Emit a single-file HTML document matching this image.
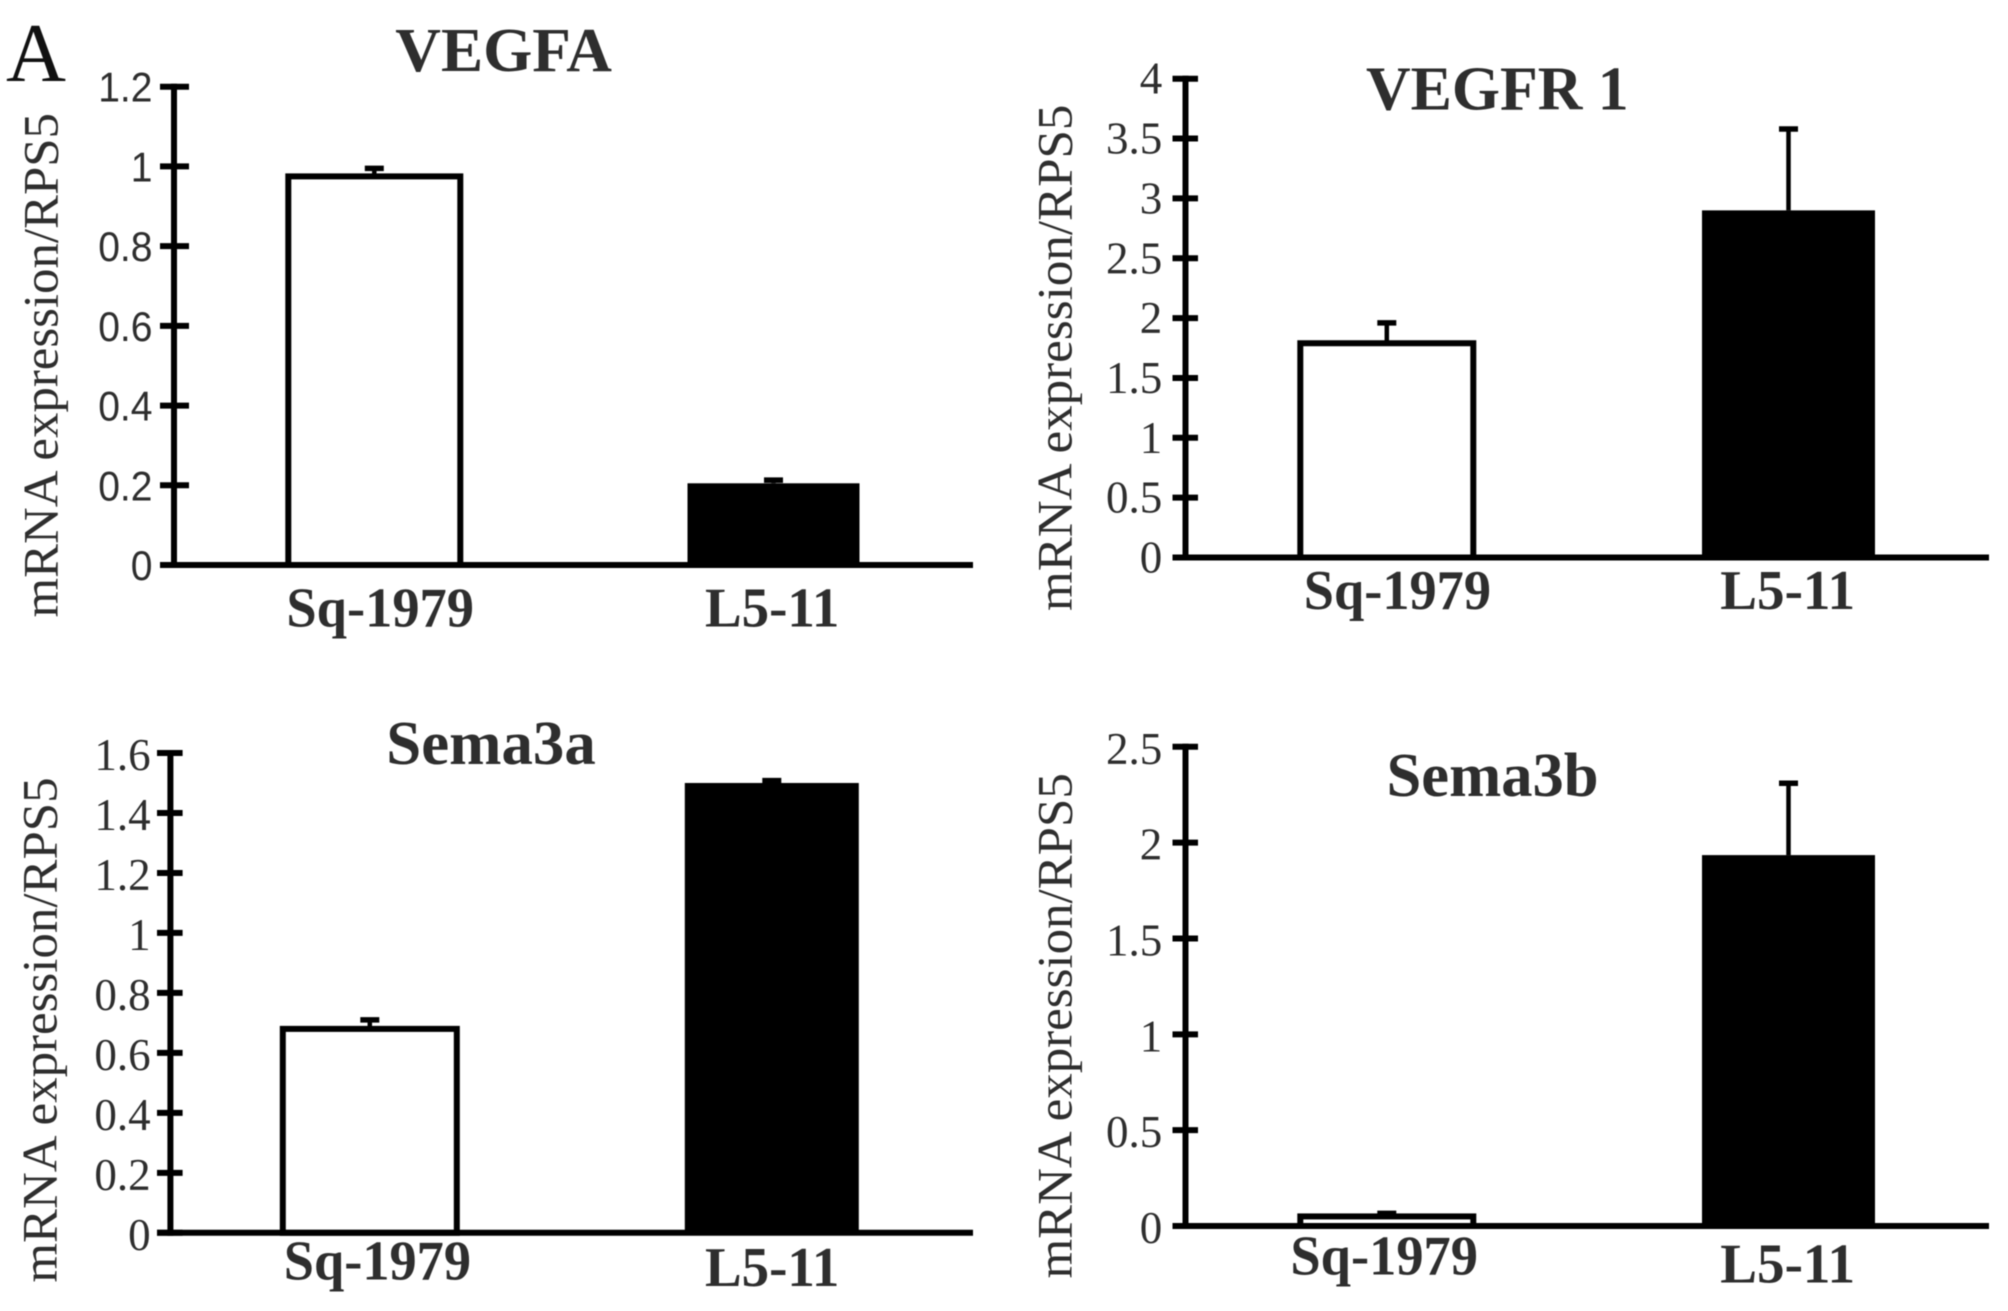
<!DOCTYPE html>
<html lang="en">
<head>
<meta charset="utf-8">
<title>mRNA expression bar charts</title>
<style>
html,body{margin:0;padding:0;background:#fff;}
body{width:2008px;height:1311px;overflow:hidden;}
svg{display:block;filter:blur(0.6px);}
text{fill:#2e2e2e;}
</style>
</head>
<body>
<svg id="figure" xmlns="http://www.w3.org/2000/svg" width="2008" height="1311" viewBox="0 0 2008 1311">
<rect width="2008" height="1311" fill="#fff"></rect>
<text x="6" y="81" font-family="'Liberation Serif',serif" font-size="84" textLength="60" lengthAdjust="spacingAndGlyphs" style="fill:#111">A</text>
</svg>
<script>
const categories = ['Sq-1979', 'L5-11'];
const yAxisTitle = 'mRNA expression/RPS5';

const vegfaTicks = ['0', '0.2', '0.4', '0.6', '0.8', '1', '1.2'];
const vegfaValues = [0.975, 0.205];
const vegfaErrors = [0.02, 0.008];

const vegfr1Ticks = ['0', '0.5', '1', '1.5', '2', '2.5', '3', '3.5', '4'];
const vegfr1Values = [1.79, 2.9];
const vegfr1Errors = [0.17, 0.68];

const sema3aTicks = ['0', '0.2', '0.4', '0.6', '0.8', '1', '1.2', '1.4', '1.6'];
const sema3aValues = [0.68, 1.5];
const sema3aErrors = [0.03, 0.008];

const sema3bTicks = ['0', '0.5', '1', '1.5', '2', '2.5'];
const sema3bValues = [0.05, 1.935];
const sema3bErrors = [0.016, 0.375];

const charts = [
  {
    key: 'vegfa', title: 'VEGFA', ticks: vegfaTicks, values: vegfaValues, errors: vegfaErrors,
    layout: {
      axisX: 174, tickL: 160, tickR: 189, axisRight: 973, topY: 86.7, zeroY: 565, bar0: 374.3, barStep: 399.2, barW: 172,
      tickLabelX: 152.5, tickFont: "'Liberation Sans',sans-serif", tickSize: 42, tickDy: 15, tickScaleX: 0.93,
      yTitleX: 57.7, yTitleTop: 113, yTitleBottom: 617.5,
      titleX: 395.3, titleW: 216.6, titleY: 71,
      catX: [286.4, 705], catW: [187.6, 134.3], catY: [626.6, 626.6]
    }
  },
  {
    key: 'vegfr1', title: 'VEGFR 1', ticks: vegfr1Ticks, values: vegfr1Values, errors: vegfr1Errors,
    layout: {
      axisX: 1185.5, tickL: 1172.5, tickR: 1198, axisRight: 1989, topY: 78.7, zeroY: 557.5, bar0: 1386.8, barStep: 401.7, barW: 173,
      tickLabelX: 1162.3, tickFont: "'Liberation Serif',serif", tickSize: 45, tickDy: 15, tickScaleX: 1,
      yTitleX: 1071.3, yTitleTop: 104.6, yTitleBottom: 611,
      titleX: 1366, titleW: 262.7, titleY: 109.7,
      catX: [1303.8, 1720.3], catW: [187.2, 134.7], catY: [609, 609]
    }
  },
  {
    key: 'sema3a', title: 'Sema3a', ticks: sema3aTicks, values: sema3aValues, errors: sema3aErrors,
    layout: {
      axisX: 170.4, tickL: 157, tickR: 182.6, axisRight: 973, topY: 753, zeroY: 1232.8, bar0: 369.8, barStep: 402, barW: 174,
      tickLabelX: 150.6, tickFont: "'Liberation Serif',serif", tickSize: 45, tickDy: 17, tickScaleX: 1,
      yTitleX: 56.4, yTitleTop: 777.4, yTitleBottom: 1282.6,
      titleX: 386.3, titleW: 209.5, titleY: 764,
      catX: [283.8, 705], catW: [187.2, 134.3], catY: [1279.7, 1286]
    }
  },
  {
    key: 'sema3b', title: 'Sema3b', ticks: sema3bTicks, values: sema3bValues, errors: sema3bErrors,
    layout: {
      axisX: 1185.5, tickL: 1172.5, tickR: 1198, axisRight: 1989, topY: 746.8, zeroY: 1226, bar0: 1386.8, barStep: 401.7, barW: 173,
      tickLabelX: 1162.3, tickFont: "'Liberation Serif',serif", tickSize: 45, tickDy: 17, tickScaleX: 1,
      yTitleX: 1071.3, yTitleTop: 773.2, yTitleBottom: 1278.5,
      titleX: 1386.5, titleW: 212.1, titleY: 796.2,
      catX: [1290.4, 1720.3], catW: [187.6, 134.7], catY: [1274.3, 1282.6]
    }
  }
];

const SVG_NS = 'http://www.w3.org/2000/svg';
const CAP_WIDTH = 19;
const figure = document.getElementById('figure');

function make(tag, parent) {
  const el = document.createElementNS(SVG_NS, tag);
  parent.appendChild(el);
  return el;
}
function line(parent, x1, y1, x2, y2, width, color) {
  const el = make('line', parent);
  el.setAttribute('x1', x1);
  el.setAttribute('y1', y1);
  el.setAttribute('x2', x2);
  el.setAttribute('y2', y2);
  el.setAttribute('stroke', color || '#000');
  el.setAttribute('stroke-width', width);
  return el;
}

charts.forEach(function (chart) {
  const L = chart.layout;
  const maxValue = parseFloat(chart.ticks[chart.ticks.length - 1]);
  const yScale = function (v) { return L.zeroY - (v / maxValue) * (L.zeroY - L.topY); };
  const xScale = function (i) { return L.bar0 + i * L.barStep; };

  const g = make('g', figure);
  
  

  // bars with error bars (drawn first so the axes sit on top)
  chart.values.forEach(function (value, i) {
    const cx = xScale(i);
    const top = yScale(value);
    const errTop = yScale(value + chart.errors[i]);

    const stem = line(g, cx, top, cx, errTop, 4.5);
    
    

    const cap = line(g, cx - CAP_WIDTH / 2, errTop, cx + CAP_WIDTH / 2, errTop, 5.5);
    
    

    const bar = make('rect', g);
    if (i === 0) {
      bar.setAttribute('x', cx - L.barW / 2);
      bar.setAttribute('y', top);
      bar.setAttribute('width', L.barW);
      bar.setAttribute('height', Math.max(0, L.zeroY - top));
      bar.setAttribute('fill', '#fff');
      bar.setAttribute('stroke', '#000');
      bar.setAttribute('stroke-width', 6);
    } else {
      bar.setAttribute('x', cx - L.barW / 2);
      bar.setAttribute('y', top);
      bar.setAttribute('width', L.barW);
      bar.setAttribute('height', Math.max(0, L.zeroY - top));
      bar.setAttribute('fill', '#000');
    }
    
    
  });

  // axes
  const yAxis = line(g, L.axisX, L.topY - 3, L.axisX, L.zeroY + 3, 6);
  
  

  const xAxis = line(g, L.tickL, L.zeroY, L.axisRight, L.zeroY, 6);
  
  

  // ticks and tick labels
  chart.ticks.forEach(function (label) {
    const v = parseFloat(label);
    const y = yScale(v);
    const tick = line(g, L.tickL, y, L.tickR, y, 6);
    
    

    const t = make('text', g);
    t.setAttribute('transform', 'translate(' + L.tickLabelX + ' ' + (y + L.tickDy) + ') scale(' + L.tickScaleX + ' 1)');
    t.setAttribute('text-anchor', 'end');
    t.setAttribute('font-family', L.tickFont);
    t.setAttribute('font-size', L.tickSize);
    t.textContent = label;
    
    
  });

  // y axis title
  const yt = make('text', g);
  yt.setAttribute('transform', 'translate(' + L.yTitleX + ' ' + L.yTitleBottom + ') rotate(-90)');
  yt.setAttribute('font-family', "'Liberation Serif',serif");
  yt.setAttribute('font-size', 50);
  yt.setAttribute('textLength', L.yTitleBottom - L.yTitleTop);
  yt.setAttribute('lengthAdjust', 'spacingAndGlyphs');
  yt.textContent = yAxisTitle;
  
  

  // chart title
  const title = make('text', g);
  title.setAttribute('x', L.titleX);
  title.setAttribute('y', L.titleY);
  title.setAttribute('font-family', "'Liberation Serif',serif");
  title.setAttribute('font-weight', 'bold');
  title.setAttribute('font-size', 62);
  title.setAttribute('textLength', L.titleW);
  title.setAttribute('lengthAdjust', 'spacingAndGlyphs');
  title.textContent = chart.title;
  
  

  // category labels
  categories.forEach(function (cat, i) {
    const c = make('text', g);
    c.setAttribute('x', L.catX[i]);
    c.setAttribute('y', L.catY[i]);
    c.setAttribute('font-family', "'Liberation Serif',serif");
    c.setAttribute('font-weight', 'bold');
    c.setAttribute('font-size', 56);
    c.setAttribute('textLength', L.catW[i]);
    c.setAttribute('lengthAdjust', 'spacingAndGlyphs');
    c.textContent = cat;
    
    
  });
});
</script>
</body>
</html>
